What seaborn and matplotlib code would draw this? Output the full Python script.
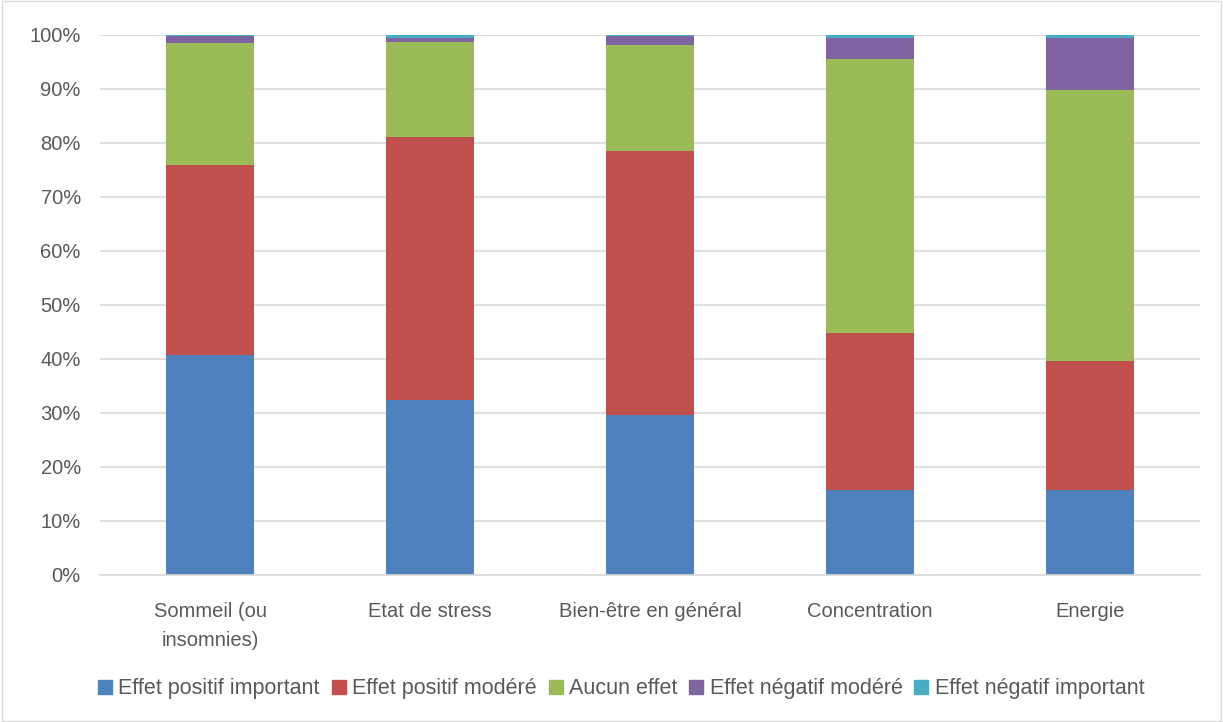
import numpy as np
import pandas as pd
import matplotlib.pyplot as plt
import seaborn as sns
from matplotlib.ticker import PercentFormatter
from matplotlib.patches import Patch

categories = ["Sommeil (ou\ninsomnies)", "Etat de stress", "Bien-être en général",
              "Concentration", "Energie"]
series_names = ["Effet positif important", "Effet positif modéré", "Aucun effet",
                "Effet négatif modéré", "Effet négatif important"]
positif_important = [40.7, 32.4, 29.6, 15.7, 15.7]
positif_modere = [35.2, 48.7, 48.9, 29.1, 23.9]
aucun_effet = [22.6, 17.6, 19.5, 50.6, 50.1]
negatif_modere = [1.2, 0.7, 1.7, 4.0, 9.7]
negatif_important = [0.3, 0.6, 0.3, 0.6, 0.6]
colors = ["#4F81BD", "#C0504D", "#9BBB59", "#8064A2", "#4BACC6"]

sns.set_style("white")
plt.rcParams['font.family'] = ['Liberation Sans', 'DejaVu Sans']
text_color = "#595959"

fig = plt.figure(figsize=(12.23, 7.22), dpi=100)
ax = fig.add_axes([0.082, 0.204, 0.899, 0.748])

layers = [positif_important, positif_modere, aucun_effet, negatif_modere, negatif_important]
bottom = np.zeros(len(categories))
for name, vals, col in zip(series_names, layers, colors):
    df = pd.DataFrame({"cat": categories, "val": vals})
    sns.barplot(data=df, x="cat", y="val", color=col, bottom=bottom, width=0.4,
                ax=ax, saturation=1, linewidth=0)
    bottom = bottom + np.array(vals)

ax.set_ylim(0, 100)
ax.set_xlim(-0.5, 4.5)
ax.set_yticks(np.arange(0, 101, 10))
ax.yaxis.set_major_formatter(PercentFormatter(decimals=0))
ax.yaxis.grid(True, color="#D9D9D9", linewidth=1.2)
ax.set_axisbelow(True)
ax.set_xlabel("")
ax.set_ylabel("")
for s in ["top", "right", "left"]:
    ax.spines[s].set_visible(False)
ax.spines["bottom"].set_color("#D9D9D9")
ax.spines["bottom"].set_linewidth(1.2)
ax.tick_params(axis="both", length=0, labelsize=14.5, colors=text_color)
ax.tick_params(axis="x", pad=20)
ax.tick_params(axis="y", pad=14)
for lbl in ax.get_xticklabels():
    lbl.set_linespacing(1.65)

handles = [Patch(color=c, label=n) for n, c in zip(series_names, colors)]
fig.legend(handles=handles, loc="center", bbox_to_anchor=(0.508, 0.046), ncol=5,
           frameon=False, fontsize=15.5, handlelength=0.65, handleheight=0.65,
           handletextpad=0.3, columnspacing=0.55, labelcolor=text_color)

fig.patches.append(plt.Rectangle((0.002, 0.002), 0.996, 0.996, transform=fig.transFigure,
                                 fill=False, edgecolor="#D9D9D9", linewidth=1))

fig.savefig("out.png", dpi=100)
